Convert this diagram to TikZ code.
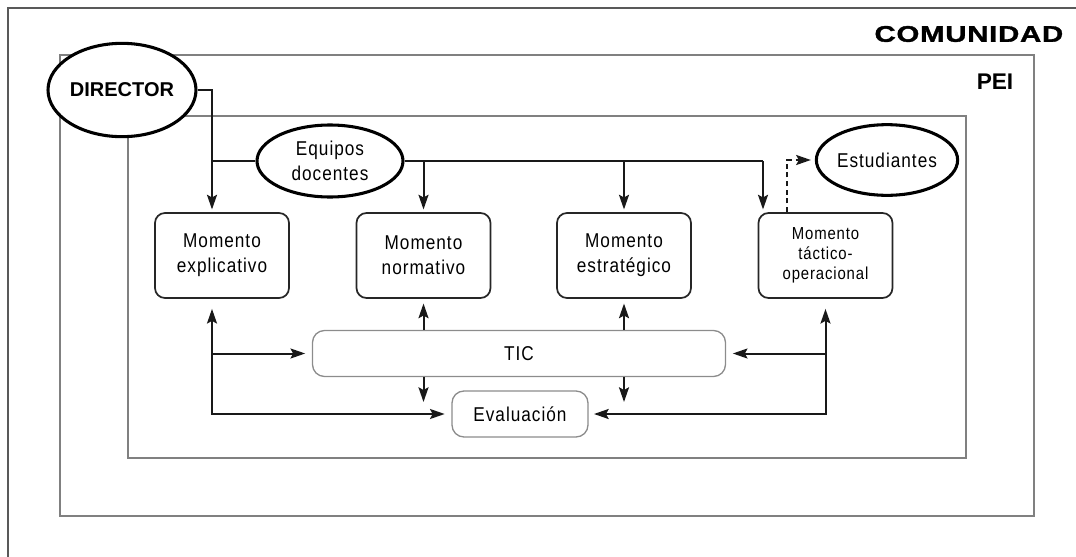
\documentclass[tikz,border=0pt]{standalone}
\usepackage{fontspec}
\setmainfont{Liberation Sans}
\newfontfamily\narrowfont{Liberation Sans}[FakeStretch=0.86, LetterSpace=5]
\newfontfamily\widefont{Liberation Sans}[FakeStretch=1.3, LetterSpace=3, BoldFeatures={FakeBold=1.5}]
\usetikzlibrary{shapes.geometric, arrows.meta, calc}

\tikzset{
  txt/.style={font=\narrowfont\fontsize{15}{18.5}\selectfont, align=center},
  momento/.style={draw=black!85, line width=1.3pt, rounded corners=7.5pt,
    minimum width=100.5pt, minimum height=63.75pt, inner sep=2pt, txt},
  softbox/.style={draw=black!45, line width=1pt, rounded corners=9pt,
    minimum height=34.5pt, inner sep=2pt, txt},
  oval/.style={ellipse, draw=black, line width=2.3pt, fill=white, inner sep=0pt, txt},
  bandframe/.style={draw=black!50, line width=1.2pt},
  link/.style={line width=1.5pt, draw=black!90},
  tip/.tip={Stealth[length=11pt, width=7.5pt, inset=2pt]},
  arr/.style={link, -tip},
  twoway/.style={link, tip-tip},
}

\begin{document}
\begin{tikzpicture}[x=0.75pt, y=-0.75pt]
\useasboundingbox (0,0) rectangle (1076,557);

% nested frames: community, PEI, inner area
\draw[draw=black!65, line width=1.6pt] (1076,8) -- (8,8) -- (8,557);
\draw[bandframe] (60,55) rectangle (1034,516);
\draw[bandframe] (128,116) rectangle (966,458);

\node[anchor=east, font=\widefont\bfseries\fontsize{17}{20}\selectfont] (com) at (1068,34) {COMUNIDAD};
\node[anchor=east, font=\bfseries\fontsize{17}{20}\selectfont] (pei) at (1018,82) {PEI};

% actors
\node[oval, minimum width=111pt, minimum height=70pt, font=\bfseries\fontsize{15}{18}\selectfont] (dir) at (122,90) {DIRECTOR};
\node[oval, minimum width=109.5pt, minimum height=54pt] (eq) at (330,161) {Equipos\\docentes};
\node[oval, minimum width=103pt, minimum height=53pt] (est) at (887,160) {Estudiantes};

% planning moments
\node[momento] (mexp) at (222,255.5) {Momento\\explicativo};
\node[momento] (mnor) at (423.5,255.5) {Momento\\normativo};
\node[momento] (mest) at (624,255.5) {Momento\\estratégico};
\node[momento, font=\narrowfont\fontsize{13}{15}\selectfont] (mtac) at (825.5,255.5) {Momento\\táctico-\\operacional};

\node[softbox, minimum width=309.75pt] (tic) at (519,353.5) {TIC};
\node[softbox, minimum width=102pt] (eval) at (520,414) {Evaluación};

% guide positions for the vertical runs
\coordinate (xa) at (212,0);
\coordinate (xd) at (763,0);
\coordinate (xe) at (787,0);

% top distribution lines
\draw[arr, shorten >=2pt] (dir.east) -| (mexp.north -| xa);
\draw[link] (eq.west) -- (eq.west -| xa);
\draw[link] (eq.east) -- (eq.east -| xd);
\draw[arr, shorten >=2pt] (eq.east -| mnor.north) -- (mnor.north);
\draw[arr, shorten >=2pt] (eq.east -| mest.north) -- (mest.north);
\draw[arr, shorten >=2pt] (eq.east -| xd) -- (mtac.north -| xd);
\draw[arr, dash pattern=on 3.75pt off 2.75pt, shorten >=3pt] (mtac.north -| xe) |- (est.west);

% feedback loops through TIC and Evaluación
\draw[twoway, shorten <=7.5pt, shorten >=5pt] (mexp.south -| xa) |- (eval.west);
\draw[arr, shorten >=5pt] (tic.west -| xa) -- (tic.west);
\draw[twoway, shorten <=7.5pt, shorten >=4pt] (mtac.south) |- (eval.east);
\draw[arr, shorten >=5pt] (tic.east -| mtac.south) -- (tic.east);

\draw[arr, shorten >=3.5pt] (tic.north -| mnor.south) -- (mnor.south);
\draw[arr, shorten >=9pt] (tic.south -| mnor.south) -- (eval.west -| mnor.south);
\draw[arr, shorten >=3.5pt] (tic.north -| mest.south) -- (mest.south);
\draw[arr, shorten >=9pt] (tic.south -| mest.south) -- (eval.east -| mest.south);
\end{tikzpicture}
\end{document}
